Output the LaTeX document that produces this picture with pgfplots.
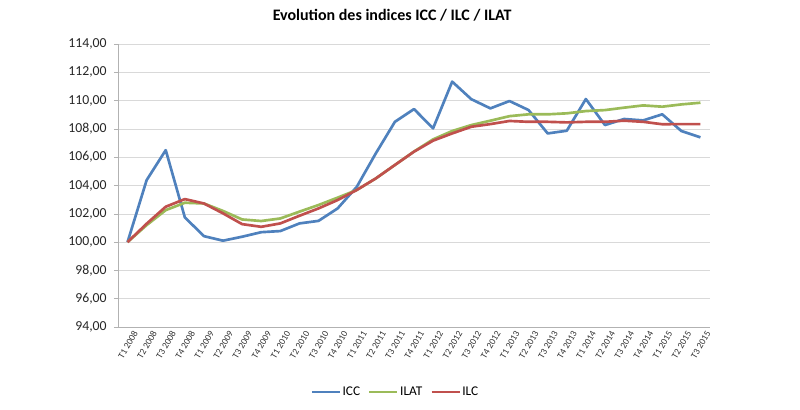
\documentclass[border=0pt]{standalone}
\usepackage{pgfplots}
\pgfplotsset{compat=1.18}
\usepackage{fontspec}
\setmainfont{Carlito}
\definecolor{iccblue}{HTML}{4F81BD}
\definecolor{ilatgreen}{HTML}{9BBB59}
\definecolor{ilcred}{HTML}{C0504D}
\begin{document}
\begin{tikzpicture}[x=1pt,y=1pt]
\path[use as bounding box] (-88.5pt,-62.25pt) rectangle (511.5pt,245.25pt);
\begin{axis}[
  at={(0pt,0pt)}, anchor=south west,
  scale only axis, width=444pt, height=212.25pt,
  xmin=-0.5, xmax=30.5, ymin=94, ymax=114,
  ytick={94,96,...,114},
  xtick={0,...,30},
  xticklabels={T1 2008,T2 2008,T3 2008,T4 2008,T1 2009,T2 2009,T3 2009,T4 2009,T1 2010,T2 2010,T3 2010,T4 2010,T1 2011,T2 2011,T3 2011,T4 2011,T1 2012,T2 2012,T3 2012,T4 2012,T1 2013,T2 2013,T3 2013,T4 2013,T1 2014,T2 2014,T3 2014,T4 2014,T1 2015,T2 2015,T3 2015},
  minor xtick={-0.5,0.5,...,30.5},
  major tick length=3pt,
  minor tick length=3pt,
  xtick style={draw=none},
  ytick style={gray!60, thin},
  every minor tick/.style={gray!60, thin},
  xticklabel style={rotate=60, anchor=east, font=\fontsize{7}{8}\selectfont, text=black!80, inner sep=1pt, xshift=3.5pt, yshift=-5.5pt},
  yticklabel style={font=\fontsize{10.3}{12}\selectfont, text=black!85, xshift=-2pt},
  /pgf/number format/.cd, fixed, fixed zerofill, precision=2, use comma, assume math mode=true,
  /pgfplots/.cd,
  axis x line*=bottom, axis y line*=left,
  axis line style={gray!60},
  tick align=outside,
  ymajorgrids, major grid style={gray!30},
  title={\bfseries Evolution des indices ICC / ILC / ILAT},
  title style={at={(0.463,1.072)}, anchor=center, font=\fontsize{12}{14}\selectfont},
  legend columns=3,
  legend style={at={(0.468,-0.23)}, anchor=center, draw=none, font=\fontsize{10}{12}\selectfont, nodes={inner xsep=1pt}, /tikz/every even column/.append style={column sep=5pt}},
  legend image code/.code={\draw[#1] (0pt,0pt) -- (21pt,0pt);},
  every axis plot/.append style={line width=2pt, line join=round},
]
\addplot[iccblue] coordinates {
(0,100.00) (1,104.38) (2,106.50) (3,101.75) (4,100.42) (5,100.10) (6,100.38) (7,100.70)
(8,100.78) (9,101.32) (10,101.50) (11,102.38) (12,103.90) (13,106.27) (14,108.50) (15,109.40)
(16,108.04) (17,111.34) (18,110.10) (19,109.45) (20,109.97) (21,109.33) (22,107.68) (23,107.87)
(24,110.11) (25,108.27) (26,108.70) (27,108.60) (28,109.03) (29,107.85) (30,107.40)};
\addlegendentry{ICC}
\addplot[ilatgreen] coordinates {
(0,100.00) (1,101.20) (2,102.26) (3,102.78) (4,102.73) (5,102.20) (6,101.60) (7,101.49)
(8,101.67) (9,102.15) (10,102.62) (11,103.14) (12,103.68) (13,104.50) (14,105.45) (15,106.40)
(16,107.26) (17,107.85) (18,108.27) (19,108.58) (20,108.90) (21,109.03) (22,109.03) (23,109.10)
(24,109.26) (25,109.33) (26,109.50) (27,109.66) (28,109.57) (29,109.73) (30,109.85)};
\addlegendentry{ILAT}
\addplot[ilcred] coordinates {
(0,100.00) (1,101.30) (2,102.50) (3,103.04) (4,102.73) (5,102.03) (6,101.27) (7,101.08)
(8,101.32) (9,101.86) (10,102.38) (11,102.97) (12,103.68) (13,104.50) (14,105.45) (15,106.39)
(16,107.17) (17,107.68) (18,108.15) (19,108.34) (20,108.56) (21,108.50) (22,108.50) (23,108.46)
(24,108.50) (25,108.50) (26,108.58) (27,108.50) (28,108.33) (29,108.34) (30,108.34)};
\addlegendentry{ILC}
\end{axis}
\end{tikzpicture}
\end{document}
